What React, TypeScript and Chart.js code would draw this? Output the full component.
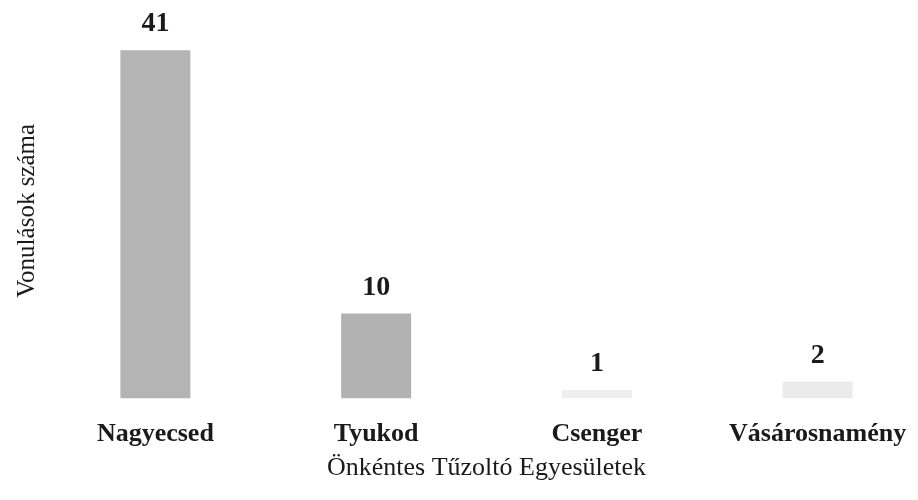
import React, { useEffect, useRef } from "react";
import { Chart, registerables } from "chart.js";

Chart.register(...registerables);

const categories = ["Nagyecsed", "Tyukod", "Csenger", "Vásárosnamény"];
const values = [41, 10, 1, 2];
const barColors = ["#b4b4b4", "#b2b2b2", "#eeeeee", "#ebebeb"];
const yTitle = "Vonulások száma";
const xTitle = "Önkéntes Tűzoltó Egyesületek";

const FONT = "'Liberation Serif', 'DejaVu Serif', serif";

const valueLabels = {
  id: "valueLabels",
  afterDatasetsDraw(chart: any) {
    const ctx = chart.ctx;
    const meta = chart.getDatasetMeta(0);
    ctx.save();
    ctx.fillStyle = "#1a1a1a";
    ctx.font = `bold 28px ${FONT}`;
    ctx.textAlign = "center";
    ctx.textBaseline = "middle";
    meta.data.forEach((bar: any, i: number) => {
      ctx.fillText(String(values[i]), bar.x, bar.y - 26);
    });
    ctx.restore();
  },
};

export default function App() {
  const ref = useRef<HTMLCanvasElement | null>(null);
  useEffect(() => {
    if (!ref.current) return;
    const chart = new Chart(ref.current, {
      type: "bar",
      data: {
        labels: categories,
        datasets: [
          {
            data: values,
            backgroundColor: barColors,
            borderWidth: 0,
            barPercentage: 0.317,
            categoryPercentage: 1,
          },
        ],
      },
      options: {
        animation: false,
        responsive: false,
        maintainAspectRatio: false,
        layout: { padding: { left: 12, right: 2, top: 23, bottom: 16 } },
        plugins: { legend: { display: false }, tooltip: { enabled: false } },
        scales: {
          x: {
            grid: { display: false },
            border: { display: false },
            ticks: {
              color: "#1a1a1a",
              font: { family: FONT, size: 26, weight: "bold" },
              padding: 12,
              maxRotation: 0,
              autoSkip: false,
            },
            title: {
              display: true,
              text: xTitle,
              color: "#1a1a1a",
              font: { family: FONT, size: 26 },
              padding: { top: -9, bottom: 0 },
            },
          },
          y: {
            min: 0,
            max: 44.2,
            grid: { display: false },
            border: { display: false },
            ticks: { display: false },
            title: {
              display: true,
              text: yTitle,
              color: "#1a1a1a",
              font: { family: FONT, size: 25 },
              padding: { top: 0, bottom: -5 },
            },
          },
        },
      },
      plugins: [valueLabels],
    });
    return () => chart.destroy();
  }, []);
  return (
    <div
      style={{
        position: "fixed",
        left: 0,
        top: 0,
        width: 918,
        height: 500,
        overflow: "hidden",
        background: "#fff",
      }}
    >
      <canvas ref={ref} width={930} height={500} style={{ display: "block" }} />
    </div>
  );
}
